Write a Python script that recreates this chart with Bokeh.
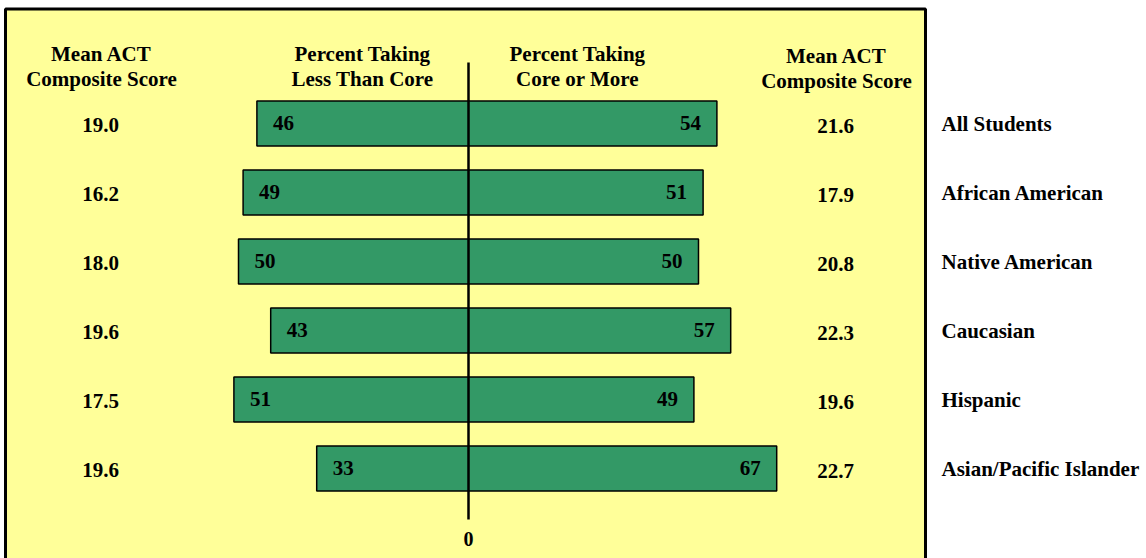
from bokeh.plotting import figure
from bokeh.models import Range1d, ColumnDataSource
from bokeh.core.properties import value
from bokeh.embed import file_html
from bokeh.resources import INLINE

# ---- data ----
groups = ["All Students", "African American", "Native American",
          "Caucasian", "Hispanic", "Asian/Pacific Islander"]
less_than_core = [46, 49, 50, 43, 51, 33]
core_or_more = [54, 51, 50, 57, 49, 67]
score_less = [19.0, 16.2, 18.0, 19.6, 17.5, 19.6]
score_core = [21.6, 17.9, 20.8, 22.3, 19.6, 22.7]
headers = ["Mean ACT\nComposite Score", "Percent Taking\nLess Than Core",
           "Percent Taking\nCore or More", "Mean ACT\nComposite Score"]

# ---- layout constants ----
W, H = 1146, 558
PX_PER_UNIT = 4.6         # pixels per percent
ZERO_PX = 468             # x of 0 within the canvas
ROW_PX = 69               # pixels per row
ROW0_PX = 123             # y of first row within the canvas

x0 = -ZERO_PX / PX_PER_UNIT
x1 = (W - ZERO_PX) / PX_PER_UNIT
ytop = -ROW0_PX / ROW_PX
ybot = (H - ROW0_PX) / ROW_PX

def xu(px):  # canvas px -> data x
    return (px - ZERO_PX) / PX_PER_UNIT

def yu(px):  # canvas px -> data y
    return (px - ROW0_PX) / ROW_PX

FONT = value("'Liberation Serif', 'Times New Roman', serif")
FS = "21px"
YELLOW = "#FFFF99"
GREEN = "#339966"

p = figure(width=W, height=H, output_backend="svg", toolbar_location=None,
           x_range=Range1d(x0, x1), y_range=Range1d(ybot, ytop),
           min_border=0, min_border_left=0, min_border_right=0,
           min_border_top=0, min_border_bottom=0,
           background_fill_color="white", border_fill_color="white")
p.outline_line_color = None
p.xaxis.visible = False
p.yaxis.visible = False
p.xgrid.visible = False
p.ygrid.visible = False

# yellow panel
p.quad(left=[xu(5)], right=[xu(925)], top=[yu(8.5)], bottom=[yu(H + 20)],
       fill_color=YELLOW, line_color="black", line_width=3)

rows = list(range(len(groups)))
src = ColumnDataSource(dict(
    y=rows,
    left=[-v for v in less_than_core],
    right=core_or_more,
    less_lbl=[str(v) for v in less_than_core],
    core_lbl=[str(v) for v in core_or_more],
    s_less=[f"{v:.1f}" for v in score_less],
    s_core=[f"{v:.1f}" for v in score_core],
    grp=groups,
))

p.hbar(y="y", left="left", right="right", height=0.655, source=src,
       fill_color=GREEN, line_color="black", line_width=1.5)

# center line
p.segment(x0=[0], x1=[0], y0=[yu(62)], y1=[yu(519)], line_color="black", line_width=2.5)
p.text(x=[0], y=[yu(538)], text=["0"], text_font=FONT, text_font_style="bold",
       text_font_size="20px", text_align="center", text_baseline="middle")

# bar value labels
p.text(x="left", y="y", text="less_lbl", source=src, x_offset=16,
       text_font=FONT, text_font_style="bold", text_font_size=FS,
       text_align="left", text_baseline="middle", y_offset=-1)
p.text(x="right", y="y", text="core_lbl", source=src, x_offset=-16,
       text_font=FONT, text_font_style="bold", text_font_size=FS,
       text_align="right", text_baseline="middle", y_offset=-1)

# score columns
p.text(x=xu(100), y="y", text="s_less", source=src,
       text_font=FONT, text_font_style="bold", text_font_size=FS,
       text_align="center", text_baseline="middle", y_offset=1)
p.text(x=xu(835), y="y", text="s_core", source=src,
       text_font=FONT, text_font_style="bold", text_font_size=FS,
       text_align="center", text_baseline="middle", y_offset=2)

# group labels
p.text(x=xu(941), y="y", text="grp", source=src,
       text_font=FONT, text_font_style="bold", text_font_size=FS,
       text_align="left", text_baseline="middle", y_offset=0)

# headers
hx = [xu(101), xu(362), xu(577), xu(836)]
hy = [yu(66), yu(66), yu(66), yu(68)]
p.text(x=hx, y=hy, text=headers, text_font=FONT, text_font_style="bold",
       text_font_size=FS, text_align="center", text_baseline="middle",
       text_line_height=1.07)

open("out.html", "w").write(file_html(p, INLINE))
